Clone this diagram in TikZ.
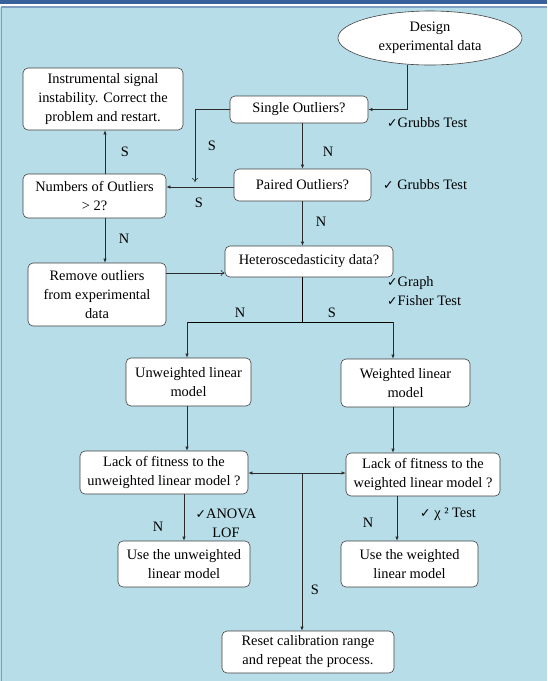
\documentclass[tikz,border=0pt]{standalone}
\usepackage{fontspec}
\setmainfont{Liberation Serif}
\newfontfamily\checkfont{DejaVu Sans}
\usetikzlibrary{shapes.geometric,arrows.meta}
\definecolor{topbar}{HTML}{38619B}
\definecolor{panel}{HTML}{B7DDE8}
\definecolor{panelrule}{HTML}{7F9DC0}
\definecolor{ink}{HTML}{2B2B2B}
\newcommand{\chkmark}{{\checkfont\fontsize{12.5}{14}\selectfont ✓}}

\begin{document}
\begin{tikzpicture}[x=1pt,y=-1pt,
  font=\fontsize{14.4}{19}\selectfont,
  box/.style={draw=ink!90,fill=white,rounded corners=5pt,align=center,inner sep=0pt,line width=0.6pt},
  arr/.style={draw=ink,line width=0.6pt,-{Latex[length=4pt,width=3.2pt]}},
  oarr/.style={draw=ink,line width=0.6pt,-{To[length=4pt,width=6pt]}},
  darr/.style={draw=ink,line width=0.6pt,{Latex[length=4pt,width=3.2pt]}-{Latex[length=4pt,width=3.2pt]}},
  lbl/.style={inner sep=1pt},
  note/.style={inner sep=1pt,align=left}]
\useasboundingbox (0,0) rectangle (547,681);
\fill[topbar] (0,0) rectangle (547,3.5);
\fill[panel] (0,6.5) rectangle (547,681);
\draw[panelrule,line width=1.2pt] (1.2,681) -- (1.2,7) -- (547,7);

\node[box,ellipse,minimum width=184,minimum height=54] (design) at (430,38) {Design\\experimental data};
\node[box,minimum width=138,minimum height=27] (single) at (299,109.5) {Single Outliers?};
\node[box,minimum width=160,minimum height=62] (instr) at (103,99) {Instrumental signal\\instability. Correct the\\problem and restart.};
\node[box,minimum width=137,minimum height=32] (paired) at (302.5,185) {Paired Outliers?};
\node[box,minimum width=143,minimum height=44] (numbers) at (94.5,196) {Numbers of Outliers\\> 2?};
\node[box,minimum width=138,minimum height=63] (remove) at (97,294.5) {Remove outliers\\from experimental\\data};
\node[box,minimum width=168,minimum height=31] (hetero) at (309,261.5) {Heteroscedasticity data?};
\node[box,minimum width=125,minimum height=48] (unw) at (188.5,382) {Unweighted linear\\model};
\node[box,minimum width=129,minimum height=48] (wei) at (405.5,383) {Weighted linear\\model};
\node[box,minimum width=168,minimum height=43] (lackunw) at (164,472.5) {Lack of fitness to the\\unweighted linear model ?};
\node[box,minimum width=154,minimum height=43] (lackwei) at (423,474.5) {Lack of fitness to the\\weighted linear model ?};
\node[box,minimum width=132,minimum height=46] (useunw) at (184,564) {Use the unweighted\\linear model};
\node[box,minimum width=137,minimum height=46] (usewei) at (409.5,564) {Use the weighted\\linear model};
\node[box,minimum width=172,minimum height=42] (reset) at (308,652) {Reset calibration range\\and repeat the process.};

\coordinate (lcol) at (105,0);
\coordinate (rcol) at (397,0);
\coordinate (sdrop) at (195,182);
\coordinate (split) at (302,322);
\coordinate (brl) at (187,322);
\coordinate (brr) at (393,322);
\coordinate (mid) at (302,473);

\draw[arr] ([xshift=-23pt]design.south) |- (single.east);
\draw[oarr] (single.west) -| (sdrop);
\draw[arr] (single.south -| paired.north) -- (paired.north);
\draw[arr] ([yshift=-2pt]paired.west) -- ([yshift=-2pt]paired.west -| numbers.east);
\draw[arr] (numbers.north -| lcol) -- (instr.south -| lcol);
\draw[arr] (numbers.south -| lcol) -- (remove.north -| lcol);
\draw[oarr] ([yshift=21.5pt]remove.east) -- ([yshift=21.5pt]remove.east -| hetero.west);
\draw[arr] (paired.south) -- (paired.south |- hetero.north);
\draw (hetero.south -| split) -- (split);
\draw (brl) -- (brr);
\draw[arr] (brl) -- (brl |- unw.north);
\draw[arr] (brr) -- (brr |- wei.north);
\draw[arr] (unw.south -| brl) -- (lackunw.north -| brl);
\draw[arr] (wei.south -| brr) -- (lackwei.north -| brr);
\draw[darr] (lackunw.east |- mid) -- (lackwei.west |- mid);
\draw[arr] (mid) -- (mid |- reset.north);
\draw[arr] (lackunw.south -| useunw.north) -- (useunw.north);
\draw[arr] (lackwei.south -| rcol) -- (usewei.north -| rcol);

\node[lbl] (s1) at (212,146) {S};
\node[lbl] (s2) at (125,152) {S};
\node[lbl] (n1) at (328,152) {N};
\node[lbl] (s3) at (199,203) {S};
\node[lbl] (n2) at (321,222) {N};
\node[lbl] (n3) at (124,239) {N};
\node[lbl] (n4) at (240,313) {N};
\node[lbl] (s4) at (332,313) {S};
\node[lbl] (n5) at (158,527) {N};
\node[lbl] (n6) at (368,523) {N};
\node[lbl] (s5) at (315,590) {S};

\node[note,anchor=west] (grubbsa) at (386,123) {\chkmark Grubbs Test};
\node[note,anchor=west] (grubbsb) at (382,185) {\chkmark\ Grubbs Test};
\node[note,anchor=west] (graph) at (386,291.5) {\chkmark Graph\\\chkmark Fisher Test};
\node[note,align=center] (anova) at (226,523) {\chkmark ANOVA\\LOF};
\node[note,anchor=west] (chisq) at (419,514) {\chkmark\ χ ² Test};
\end{tikzpicture}
\end{document}
